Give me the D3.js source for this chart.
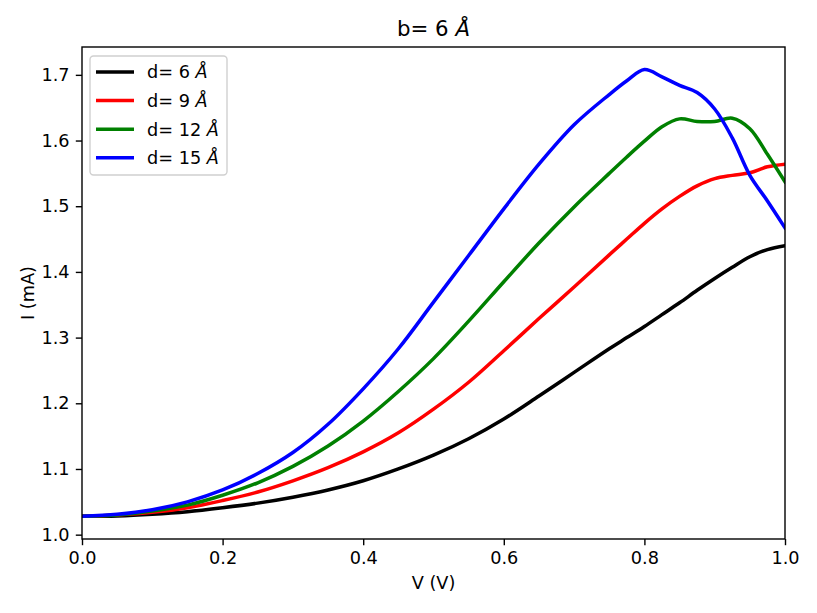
<!DOCTYPE html>
<html>
<head>
<meta charset="utf-8">
<script src="https://d3js.org/d3.v7.min.js"></script>
<style>
body { margin: 0; background: #fff; }
text { font-family: "DejaVu Sans", sans-serif; fill: #000; }
</style>
</head>
<body>
<div id="chart"></div>
<script>
// voltage samples (V)
var volts = [0, 0.05, 0.1, 0.15, 0.2, 0.25, 0.3, 0.35, 0.4, 0.45, 0.5, 0.55, 0.6, 0.65, 0.7,
             0.75, 0.775, 0.8, 0.825, 0.85, 0.875, 0.9, 0.925, 0.95, 0.975, 1.0];
// current (mA) for each d
var d6  = [1.028, 1.0285, 1.031, 1.035, 1.041, 1.048, 1.057, 1.068, 1.082, 1.100, 1.121, 1.146, 1.176, 1.211, 1.247,
           1.283, 1.300, 1.317, 1.335, 1.353, 1.372, 1.390, 1.407, 1.423, 1.434, 1.440];
var d9  = [1.028, 1.030, 1.034, 1.041, 1.052, 1.065, 1.082, 1.102, 1.126, 1.155, 1.191, 1.232, 1.280, 1.329, 1.377,
           1.426, 1.450, 1.474, 1.496, 1.515, 1.531, 1.542, 1.547, 1.551, 1.560, 1.564];
var d12 = [1.028, 1.030, 1.036, 1.045, 1.060, 1.079, 1.104, 1.135, 1.173, 1.218, 1.268, 1.325, 1.385, 1.444, 1.499,
           1.550, 1.575, 1.599, 1.621, 1.633, 1.629, 1.629, 1.634, 1.618, 1.579, 1.537];
var d15 = [1.028, 1.031, 1.038, 1.050, 1.068, 1.093, 1.125, 1.168, 1.222, 1.283, 1.354, 1.425, 1.496, 1.564, 1.624,
           1.670, 1.691, 1.708, 1.697, 1.684, 1.673, 1.648, 1.604, 1.547, 1.508, 1.467];

var seriesNames = ["6", "9", "12", "15"];
var seriesValues = [d6, d9, d12, d15];
var seriesColors = ["#000000", "#ff0000", "#008000", "#0000ff"];

var xTicks = [0, 0.2, 0.4, 0.6, 0.8, 1.0];
var yTicks = [1.0, 1.1, 1.2, 1.3, 1.4, 1.5, 1.6, 1.7];

var width = 817, height = 613;
var margin = {left: 82, right: 32, top: 47, bottom: 74};
var fs = 17.7;

var svg = d3.select("#chart").append("svg")
	.attr("width", width)
	.attr("height", height);

var x = d3.scaleLinear().domain([0, 1]).range([margin.left, width - margin.right]);
var y = d3.scaleLinear().domain([0.9934, 1.7424]).range([height - margin.bottom, margin.top]);

// lines, clipped to the axes
svg.append("clipPath").attr("id", "clip")
	.append("rect")
	.attr("x", margin.left).attr("y", margin.top)
	.attr("width", width - margin.left - margin.right)
	.attr("height", height - margin.top - margin.bottom);

var line = d3.line()
	.x(function(d, i){ return x(volts[i]); })
	.y(function(d){ return y(d); })
	.curve(d3.curveCatmullRom.alpha(0.5));

svg.append("g").attr("clip-path", "url(#clip)")
	.selectAll("path")
	.data(seriesValues)
	.enter()
	.append("path")
	.attr("d", line)
	.style("fill", "none")
	.style("stroke", function(d, i){ return seriesColors[i]; })
	.style("stroke-width", 3.5)
	.style("stroke-linejoin", "round")
	.style("stroke-linecap", "square");

// axes
var xAxis = svg.append("g")
	.attr("transform", "translate(0," + (height - margin.bottom) + ")")
	.call(d3.axisBottom(x).tickValues(xTicks).tickFormat(d3.format(".1f")).tickSize(6.2).tickPadding(6.2));
var yAxis = svg.append("g")
	.attr("transform", "translate(" + margin.left + ",0)")
	.call(d3.axisLeft(y).tickValues(yTicks).tickFormat(d3.format(".1f")).tickSize(6.2).tickPadding(6.2));

[xAxis, yAxis].forEach(function(a){
	a.select(".domain").remove();
	a.selectAll(".tick line").style("stroke", "#000").style("stroke-width", 1.4);
	a.selectAll(".tick text")
		.style("font-family", "DejaVu Sans")
		.style("font-size", fs + "px")
		.style("fill", "#000");
});

// frame
svg.append("rect")
	.attr("x", margin.left).attr("y", margin.top)
	.attr("width", width - margin.left - margin.right)
	.attr("height", height - margin.top - margin.bottom)
	.style("fill", "none")
	.style("stroke", "#000")
	.style("stroke-width", 1.4);

// labels
svg.append("text")
	.attr("x", x(0.5)).attr("y", 589)
	.style("text-anchor", "middle")
	.style("font-size", fs + "px")
	.text("V (V)");

svg.append("text")
	.attr("transform", "translate(34," + ((margin.top + height - margin.bottom) / 2) + ") rotate(-90)")
	.style("text-anchor", "middle")
	.style("font-size", fs + "px")
	.text("I (mA)");

var title = svg.append("text")
	.attr("x", x(0.5)).attr("y", 36)
	.style("text-anchor", "middle")
	.style("font-size", "21.3px");
title.append("tspan").text("b= 6 ");
title.append("tspan").style("font-style", "italic").text("Å");

// legend
var legend = svg.append("g");
legend.append("rect")
	.attr("x", 90).attr("y", 56)
	.attr("width", 137).attr("height", 119)
	.attr("rx", 3.5)
	.style("fill", "#fff")
	.style("fill-opacity", 0.8)
	.style("stroke", "#d0d0d0")
	.style("stroke-width", 1.4);

var items = legend.selectAll("g.item")
	.data(seriesNames)
	.enter()
	.append("g")
	.attr("transform", function(d, i){ return "translate(0," + (72 + i * 28.6) + ")"; });

items.append("line")
	.attr("x1", 96).attr("x2", 134)
	.attr("y1", 0).attr("y2", 0)
	.style("stroke", function(d, i){ return seriesColors[i]; })
	.style("stroke-width", 3.5);

var lt = items.append("text")
	.attr("x", 147).attr("y", 6.3)
	.style("font-size", fs + "px");
lt.append("tspan").text(function(d){ return "d= " + d + " "; });
lt.append("tspan").style("font-style", "italic").text("Å");
</script>
</body>
</html>
